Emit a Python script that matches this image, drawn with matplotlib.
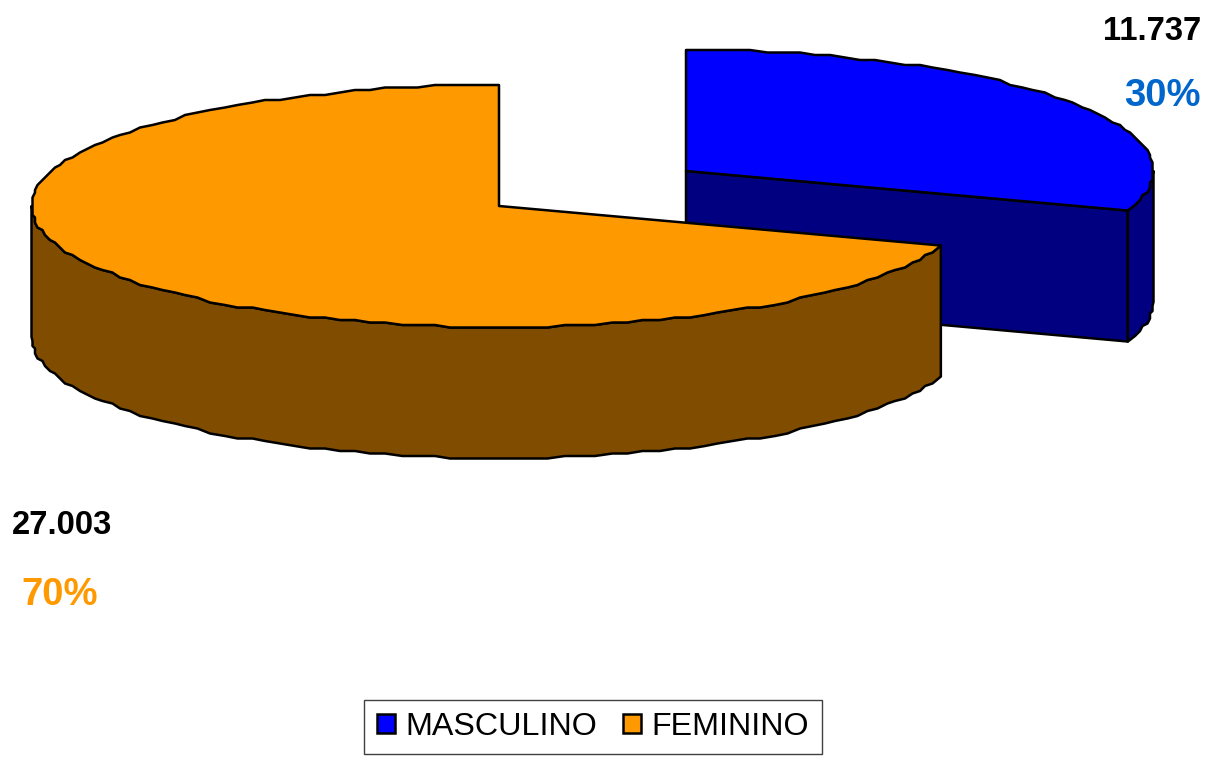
import numpy as np
import matplotlib
matplotlib.use('Agg')
import matplotlib.pyplot as plt
from matplotlib.patches import Polygon, Patch

# data
labels = ['MASCULINO', 'FEMININO']
values = [11737, 27003]
value_text = ['11.737', '27.003']
pct_text = ['30%', '70%']
top_colors = ['#0000FF', '#FF9900']
side_colors = ['#000080', '#804D00']
pct_colors = ['#0066CC', '#FF9900']

plt.rcParams['font.family'] = ['Liberation Sans', 'DejaVu Sans']

fig = plt.figure(figsize=(12.15, 7.6), dpi=100)
ax = fig.add_axes([0, 0, 1, 1])
ax.set_xlim(0, 1215)
ax.set_ylim(760, 0)
ax.axis('off')

# pie geometry, in pixels
rx = 467.5
ry = 121
depth = 131
centers = [(686, 171), (499, 206)]
edge = dict(edgecolor='black', linewidth=1.8, joinstyle='round')
step = np.radians(2.0)


def rim(cx, cy, a0, a1):
    # angles clockwise from 12 o'clock, same angle steps everywhere so wall and top line up
    inner = np.arange(np.ceil(a0 / step) + 1, np.floor(a1 / step)) * step
    t = np.concatenate([[a0], inner, [a1]])
    pts = np.column_stack([cx + rx * np.sin(t), cy - ry * np.cos(t)])
    # snap to a small grid for the slightly stepped outline
    pts[1:-1] = np.round(pts[1:-1] / 2.5) * 2.5
    return pts


def draw_slice(cx, cy, a0, a1, top, side):
    pts = rim(cx, cy, a0, a1)

    # flat cut face
    for a in (a0, a1):
        x, y = cx + rx * np.sin(a), cy - ry * np.cos(a)
        if x > cx and a == a0:
            continue
        if a == a1 and a1 > np.pi * 1.5:
            continue
        face = [(cx, cy), (x, y), (x, y + depth), (cx, cy + depth)]
        ax.add_patch(Polygon(face, closed=True, facecolor=side, **edge))

    # outer wall, only the part below the rim
    start = max(a0, np.pi / 2)
    stop = min(a1, np.pi * 1.5)
    if a0 < np.pi / 2 and a1 <= np.pi / 2:
        start = a0
        stop = a1
    wall = rim(cx, cy, start, stop)
    wall = np.vstack([wall, wall[::-1] + [0, depth]])
    ax.add_patch(Polygon(wall, closed=True, facecolor=side, **edge))

    # top face
    ax.add_patch(Polygon(np.vstack([[cx, cy], pts]), closed=True, facecolor=top, **edge))


fracs = np.array(values) / sum(values)
angles = np.concatenate([[0], np.cumsum(fracs)]) * 2 * np.pi

for i in range(len(values)):
    draw_slice(centers[i][0], centers[i][1], angles[i], angles[i + 1], top_colors[i], side_colors[i])

# data labels
ax.text(1201, 31, value_text[0], ha='right', va='center', fontsize=23.6, fontweight='bold', color='black')
ax.text(1201, 96, pct_text[0], ha='right', va='center', fontsize=27.5, fontweight='bold', color=pct_colors[0])
ax.text(12, 526, value_text[1], ha='left', va='center', fontsize=23.6, fontweight='bold', color='black')
ax.text(21, 595, pct_text[1], ha='left', va='center', fontsize=27.5, fontweight='bold', color=pct_colors[1])

handles = [Patch(facecolor=c, edgecolor='black', linewidth=1.8) for c in top_colors]
leg = ax.legend(handles, labels, loc='center', bbox_to_anchor=(593, 727), bbox_transform=ax.transData,
                ncol=2, fontsize=23.2, frameon=True, fancybox=False, edgecolor='#404040', framealpha=1,
                handlelength=0.56, handleheight=0.56, handletextpad=0.33, columnspacing=0.81,
                borderpad=0.38, borderaxespad=0)
leg.get_frame().set_linewidth(1.0)

fig.savefig('out.png', dpi=100)
